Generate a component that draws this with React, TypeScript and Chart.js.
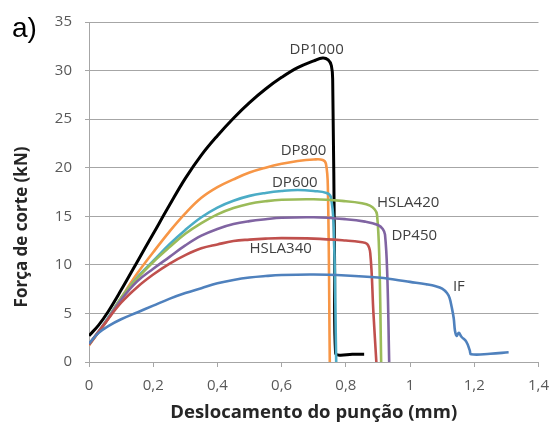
import React, { useEffect, useRef } from 'react';
import { Chart, registerables } from 'chart.js';

Chart.register(...registerables);

// ---- data (displacement mm, force kN) ----
const ifX = [0, 0.03, 0.06, 0.1, 0.15, 0.2, 0.25, 0.3, 0.35, 0.4, 0.45, 0.5, 0.55, 0.6, 0.7, 0.8, 0.9, 0.95, 1.0, 1.05, 1.08, 1.1, 1.115, 1.123, 1.13, 1.136, 1.14, 1.145, 1.152, 1.16, 1.175, 1.186, 1.19, 1.25, 1.307];
const ifY = [1.9, 3.0, 3.7, 4.4, 5.1, 5.8, 6.5, 7.1, 7.6, 8.1, 8.45, 8.7, 8.85, 8.95, 9.0, 8.9, 8.7, 8.5, 8.25, 8.0, 7.8, 7.55, 7.1, 6.6, 5.6, 4.5, 3.2, 2.7, 3.0, 2.6, 2.1, 1.2, 0.8, 0.85, 1.0];

const hsla340X = [0, 0.05, 0.1, 0.15, 0.2, 0.25, 0.3, 0.35, 0.4, 0.45, 0.5, 0.55, 0.6, 0.7, 0.8, 0.845, 0.866, 0.876, 0.886, 0.895];
const hsla340Y = [1.8, 4.0, 6.1, 7.7, 9.0, 10.1, 11.0, 11.7, 12.1, 12.45, 12.6, 12.7, 12.75, 12.7, 12.5, 12.35, 12.15, 11.2, 5.0, 0];

const dp450X = [0, 0.05, 0.1, 0.15, 0.2, 0.25, 0.3, 0.35, 0.4, 0.45, 0.5, 0.55, 0.6, 0.7, 0.8, 0.86, 0.9, 0.915, 0.922, 0.929, 0.935];
const dp450Y = [1.8, 4.0, 6.4, 8.3, 9.6, 10.8, 12.0, 13.0, 13.7, 14.2, 14.5, 14.7, 14.85, 14.9, 14.7, 14.45, 14.1, 13.7, 13.1, 9.0, 0];

const hsla420X = [0, 0.05, 0.1, 0.15, 0.2, 0.25, 0.3, 0.35, 0.4, 0.45, 0.5, 0.55, 0.6, 0.7, 0.8, 0.85, 0.875, 0.89, 0.897, 0.904, 0.91];
const hsla420Y = [1.8, 4.0, 6.6, 8.6, 10.3, 11.8, 13.2, 14.3, 15.2, 15.85, 16.3, 16.55, 16.7, 16.75, 16.55, 16.35, 16.1, 15.7, 15.2, 11.0, 0];

const dp600X = [0, 0.05, 0.1, 0.15, 0.2, 0.25, 0.3, 0.35, 0.4, 0.45, 0.5, 0.55, 0.6, 0.65, 0.7, 0.74, 0.753, 0.762, 0.77];
const dp600Y = [1.8, 4.1, 6.6, 8.7, 10.4, 12.1, 13.6, 14.9, 15.9, 16.6, 17.1, 17.4, 17.6, 17.7, 17.6, 17.4, 17.0, 14.0, 0];

const dp800X = [0, 0.05, 0.1, 0.15, 0.2, 0.25, 0.3, 0.35, 0.4, 0.45, 0.5, 0.55, 0.6, 0.65, 0.7, 0.728, 0.738, 0.744, 0.75];
const dp800Y = [1.7, 4.0, 6.6, 9.1, 11.3, 13.4, 15.3, 16.9, 18.0, 18.8, 19.5, 20.0, 20.4, 20.7, 20.85, 20.8, 20.4, 18.0, 0];

const dp1000X = [0, 0.03, 0.06, 0.1, 0.15, 0.2, 0.25, 0.3, 0.35, 0.4, 0.45, 0.5, 0.55, 0.6, 0.65, 0.7, 0.728, 0.745, 0.755, 0.759, 0.765, 0.768, 0.78, 0.82, 0.857];
const dp1000Y = [2.7, 3.8, 5.2, 7.4, 10.3, 13.2, 16.1, 18.9, 21.3, 23.3, 25.1, 26.7, 28.1, 29.3, 30.3, 31.0, 31.3, 31.1, 30.5, 29.0, 10.0, 0.9, 0.7, 0.8, 0.8];

const seriesNames = ['IF', 'HSLA340', 'DP450', 'HSLA420', 'DP600', 'DP800', 'DP1000'];
const seriesXs = [ifX, hsla340X, dp450X, hsla420X, dp600X, dp800X, dp1000X];
const seriesYs = [ifY, hsla340Y, dp450Y, hsla420Y, dp600Y, dp800Y, dp1000Y];
const seriesColors = ['#4F81BD', '#C0504D', '#8064A2', '#9BBB59', '#4BACC6', '#F79646', '#000000'];

// in-plot series labels (data coordinates of label centres)
const labelTexts = ['DP1000', 'DP800', 'DP600', 'HSLA420', 'DP450', 'HSLA340', 'IF'];
const labelX = [0.709, 0.668, 0.641, 0.994, 1.013, 0.597, 1.152];
const labelY = [32.1, 21.7, 18.5, 16.4, 13.0, 11.7, 7.7];

const xMin = 0;
const xMax = 1.4;
const xStep = 0.2;
const yMin = 0;
const yMax = 35;
const yStep = 5;

const xTitle = 'Deslocamento do punção (mm)';
const yTitle = 'Força de corte (kN)';
const panelTag = 'a)';

const FONT = "'Open Sans', 'DejaVu Sans', sans-serif";
const GRID = '#a6a6a6';

const labelsPlugin = {
  id: 'seriesLabels',
  afterDatasetsDraw(chart: any) {
    const { ctx, scales } = chart;
    ctx.save();
    ctx.font = `15px ${FONT}`;
    ctx.fillStyle = '#404040';
    ctx.textAlign = 'center';
    ctx.textBaseline = 'middle';
    labelTexts.forEach((t, i) => {
      ctx.fillText(t, scales.x.getPixelForValue(labelX[i]), scales.y.getPixelForValue(labelY[i]));
    });
    ctx.restore();
  },
  afterDraw(chart: any) {
    const { ctx, scales } = chart;
    ctx.save();
    ctx.font = `bold 17px ${FONT}`;
    ctx.fillStyle = '#262626';
    ctx.textAlign = 'center';
    ctx.textBaseline = 'middle';
    ctx.translate(22, scales.y.getPixelForValue(13.9));
    ctx.rotate(-Math.PI / 2);
    ctx.fillText(yTitle, 0, 0);
    ctx.restore();
    ctx.save();
    ctx.font = `28px 'Liberation Sans', Arial, sans-serif`;
    ctx.fillStyle = '#000000';
    ctx.textAlign = 'left';
    ctx.textBaseline = 'alphabetic';
    ctx.fillText(panelTag, 12, 37);
    ctx.restore();
  },
};

export default function App() {
  const ref = useRef<HTMLCanvasElement | null>(null);
  useEffect(() => {
    if (!ref.current) return;
    const datasets = seriesNames.map((name, i) => ({
      label: name,
      data: seriesXs[i].map((x, j) => ({ x, y: seriesYs[i][j] })),
      borderColor: seriesColors[i],
      backgroundColor: seriesColors[i],
      borderWidth: name === 'DP1000' ? 3 : 2.6,
      pointRadius: 0,
      tension: 0.4,
      fill: false,
    }));
    const fmt = (v: number) => String(Number(v.toFixed(1))).replace('.', ',');
    const chart = new Chart(ref.current, {
      type: 'line',
      data: { datasets },
      options: {
        responsive: false,
        animation: false,
        layout: { padding: { left: 0, top: 22, right: 16, bottom: 0 } },
        plugins: { legend: { display: false }, tooltip: { enabled: false } },
        scales: {
          x: {
            type: 'linear',
            min: xMin,
            max: xMax,
            ticks: { stepSize: xStep, color: '#595959', font: { family: FONT, size: 15 }, padding: 10, callback: (v: any) => fmt(Number(v)), maxRotation: 0 },
            grid: { drawOnChartArea: false, drawTicks: true, tickLength: 5, color: GRID },
            border: { display: true, color: GRID },
            title: { display: true, text: xTitle, color: '#262626', font: { family: FONT, size: 18.5, weight: 'bold' }, padding: { top: 0, bottom: 2 } },
            afterFit: (s: any) => { s.height = 64; },
          },
          y: {
            type: 'linear',
            min: yMin,
            max: yMax,
            ticks: { stepSize: yStep, color: '#595959', font: { family: FONT, size: 15 }, padding: 13 },
            grid: { drawTicks: true, tickLength: 4, color: GRID },
            border: { display: true, color: GRID },
            afterFit: (s: any) => { s.width = 89; },
          },
        },
      },
      plugins: [labelsPlugin],
    });
    return () => chart.destroy();
  }, []);
  return (
    <div style={{ position: 'fixed', left: 0, top: 0, width: 559, height: 426, background: '#fff' }}>
      <canvas ref={ref} width={559} height={426} style={{ display: 'block' }} />
    </div>
  );
}
